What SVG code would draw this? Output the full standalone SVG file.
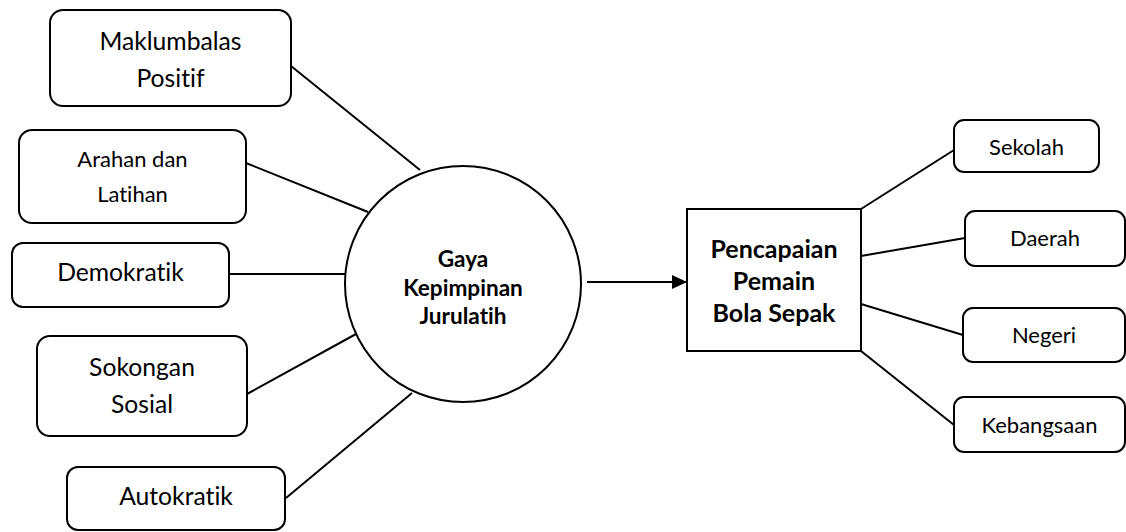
<svg xmlns="http://www.w3.org/2000/svg" width="1126" height="532" viewBox="0 0 1126 532">
<style>
.box{fill:#fff;stroke:#000;stroke-width:2}
.t{font-family:Lato,"Liberation Sans",sans-serif;fill:#000;text-anchor:middle;font-variant-ligatures:none}
.b{font-weight:bold}
.ln{stroke:#000;stroke-width:2;fill:none}
</style>
<defs>
<marker id="ah" markerWidth="15" markerHeight="14" refX="15" refY="7" orient="auto" markerUnits="userSpaceOnUse">
<path d="M0,0 L15,7 L0,14 Z" fill="#000"/>
</marker>
</defs>
<rect width="1126" height="532" fill="#fff"/>
<g id="connectors">
<line class="ln" x1="291" y1="66" x2="420" y2="170"/>
<line class="ln" x1="246" y1="163" x2="368" y2="212"/>
<line class="ln" x1="229" y1="274" x2="345" y2="274"/>
<line class="ln" x1="247" y1="394" x2="356" y2="334"/>
<line class="ln" x1="286" y1="498" x2="412" y2="393"/>
<line class="ln" x1="587" y1="282" x2="687" y2="282" marker-end="url(#ah)"/>
<line class="ln" x1="861" y1="209" x2="954" y2="150"/>
<line class="ln" x1="861" y1="256" x2="965" y2="238"/>
<line class="ln" x1="861" y1="304" x2="963" y2="335"/>
<line class="ln" x1="861" y1="351" x2="954" y2="425"/>
</g>
<g id="maklumbalas">
<rect class="box" x="50" y="10" width="241" height="96" rx="13"/>
<text class="t" x="170.5" y="50" font-size="24.7">Maklumbalas</text>
<text class="t" x="170.5" y="87" font-size="24.7">Positif</text>
</g>
<g id="arahan">
<rect class="box" x="19" y="130" width="227" height="93" rx="13"/>
<text class="t" x="132.5" y="167" font-size="22">Arahan dan</text>
<text class="t" x="132.5" y="202" font-size="22">Latihan</text>
</g>
<g id="demokratik">
<rect class="box" x="12" y="243" width="217" height="64" rx="11"/>
<text class="t" x="120.5" y="281" font-size="24.7">Demokratik</text>
</g>
<g id="sokongan">
<rect class="box" x="37" y="336" width="210" height="100" rx="13"/>
<text class="t" x="142" y="376" font-size="24.7">Sokongan</text>
<text class="t" x="142" y="413" font-size="24.7">Sosial</text>
</g>
<g id="autokratik">
<rect class="box" x="67" y="467" width="218" height="63" rx="11"/>
<text class="t" x="176" y="505" font-size="24.7">Autokratik</text>
</g>
<g id="gaya">
<circle class="box" cx="463" cy="284" r="118"/>
<text class="t b" x="463" y="267" font-size="22.6">Gaya</text>
<text class="t b" x="463" y="296" font-size="22.6">Kepimpinan</text>
<text class="t b" x="463" y="324" font-size="22.6">Jurulatih</text>
</g>
<g id="pencapaian">
<rect class="box" x="687" y="209" width="174" height="142"/>
<text class="t b" x="774" y="258" font-size="25">Pencapaian</text>
<text class="t b" x="774" y="290" font-size="25">Pemain</text>
<text class="t b" x="774" y="322" font-size="25">Bola Sepak</text>
</g>
<g id="sekolah">
<rect class="box" x="954" y="120" width="145" height="52" rx="10"/>
<text class="t" x="1026.5" y="155" font-size="22">Sekolah</text>
</g>
<g id="daerah">
<rect class="box" x="965" y="211" width="160" height="55" rx="10"/>
<text class="t" x="1045" y="246" font-size="22">Daerah</text>
</g>
<g id="negeri">
<rect class="box" x="963" y="308" width="162" height="54" rx="10"/>
<text class="t" x="1044" y="343" font-size="22">Negeri</text>
</g>
<g id="kebangsaan">
<rect class="box" x="954" y="397" width="171" height="55" rx="10"/>
<text class="t" x="1039.5" y="433" font-size="22">Kebangsaan</text>
</g>
</svg>
